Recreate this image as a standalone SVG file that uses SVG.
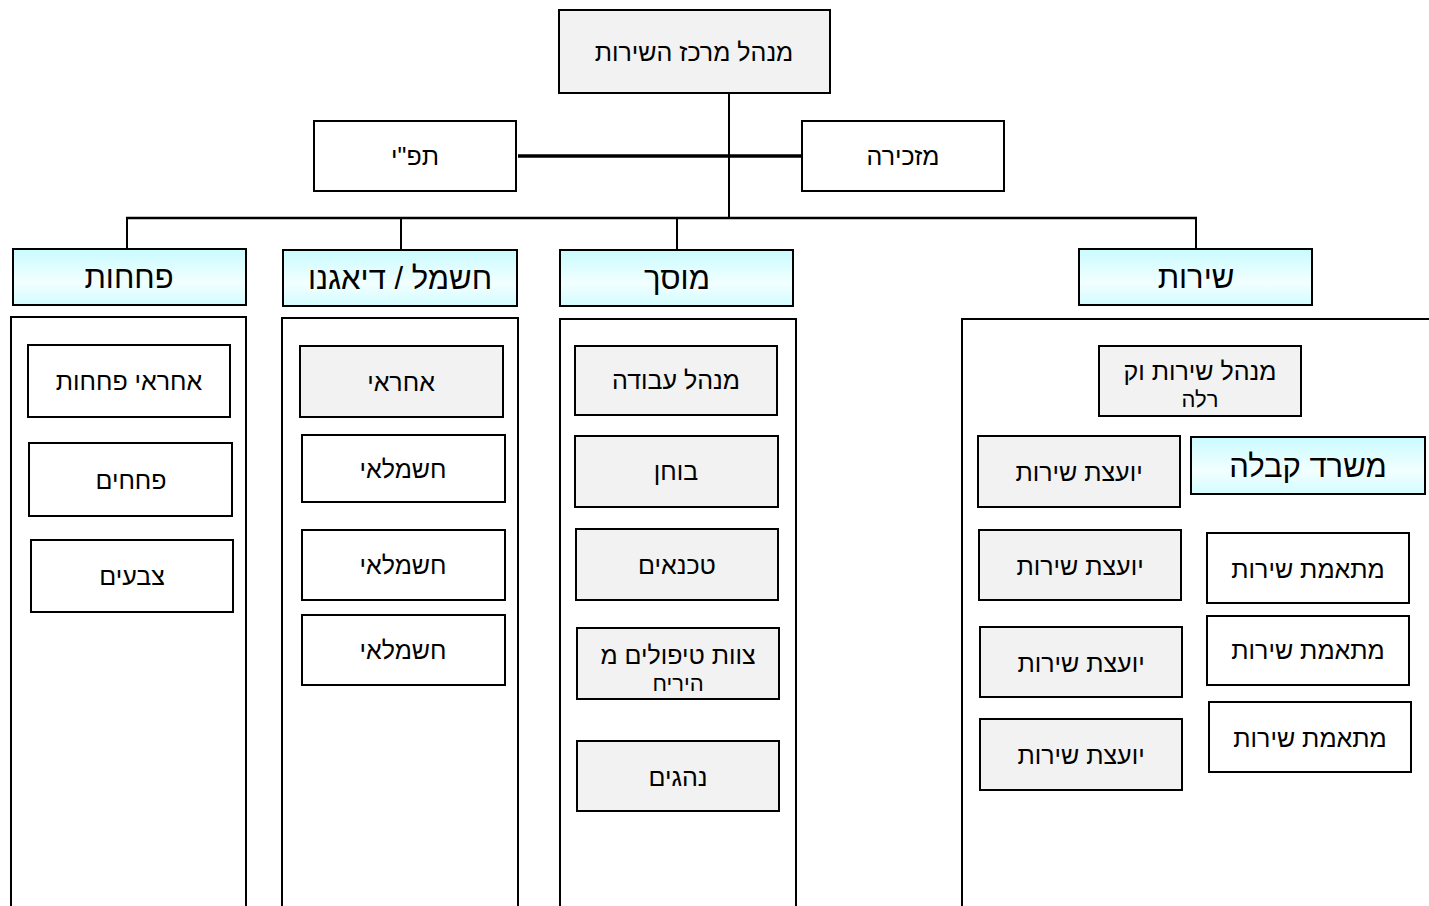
<svg xmlns="http://www.w3.org/2000/svg" width="1429" height="906" viewBox="0 0 1429 906">
<defs>
<linearGradient id="cy" x1="0" y1="0" x2="0" y2="1">
<stop offset="0" stop-color="#c9fbff"/>
<stop offset="0.6" stop-color="#f2ffff"/>
<stop offset="1" stop-color="#d2fcff"/>
</linearGradient>
<style>
.n rect{stroke:#000;stroke-width:2}
.g{fill:#f2f2f2}
.w{fill:#fff}
.h{fill:url(#cy)}
.frame{fill:none;stroke:#000;stroke-width:2}
text{font-family:"Liberation Sans","DejaVu Sans",Arial,sans-serif;fill:#000;text-anchor:middle;direction:rtl}
.t{font-size:25px}
.t2{font-size:22px}
.ht{font-size:31px}
.c line{stroke:#000;stroke-width:2}
</style>
</defs>
<rect width="1429" height="906" fill="#fff"/>
<g class="c" id="connectors">
<line x1="729" y1="93" x2="729" y2="219"/>
<line x1="518" y1="156" x2="802" y2="156" style="stroke-width:3.5"/>
<line x1="126" y1="218" x2="1197" y2="218" style="stroke-width:2.5"/>
<line x1="127" y1="218" x2="127" y2="249"/>
<line x1="401" y1="218" x2="401" y2="250"/>
<line x1="677" y1="218" x2="677" y2="250"/>
<line x1="1196" y1="218" x2="1196" y2="249"/>
</g>
<g id="frames">
<path class="frame" d="M11 906 V317 H246 V906"/>
<path class="frame" d="M282 906 V318 H518 V906"/>
<path class="frame" d="M560 906 V319 H796 V906"/>
<path class="frame" d="M962 906 V319 H1429"/>
</g>
<g class="n">
<g id="top"><rect class="g" x="559" y="10" width="271" height="83"/><text class="t" x="694" y="61">מנהל מרכז השירות</text></g>
<g id="tapi"><rect class="w" x="314" y="121" width="202" height="70"/><text class="t" x="415" y="165">תפ"י</text></g>
<g id="secretary"><rect class="w" x="802" y="121" width="202" height="70"/><text class="t" x="903" y="165">מזכירה</text></g>

<g id="h-pechachut"><rect class="h" x="13" y="249" width="233" height="56"/><text class="ht" x="129" y="288">פחחות</text></g>
<g id="h-electric"><rect class="h" x="283" y="250" width="234" height="56"/><text class="ht" x="400" y="289">חשמל / דיאגנו</text></g>
<g id="h-garage"><rect class="h" x="560" y="250" width="233" height="56"/><text class="ht" x="677" y="289">מוסך</text></g>
<g id="h-service"><rect class="h" x="1079" y="249" width="233" height="56"/><text class="ht" x="1196" y="288">שירות</text></g>

<g id="n1"><rect class="w" x="28" y="345" width="202" height="72"/><text class="t" x="129" y="390">אחראי פחחות</text></g>
<g id="n2"><rect class="w" x="29" y="443" width="203" height="73"/><text class="t" x="131" y="489">פחחים</text></g>
<g id="n3"><rect class="w" x="31" y="540" width="202" height="72"/><text class="t" x="132" y="585">צבעים</text></g>

<g id="n4"><rect class="g" x="300" y="346" width="203" height="71"/><text class="t" x="401" y="391">אחראי</text></g>
<g id="n5"><rect class="w" x="302" y="435" width="203" height="67"/><text class="t" x="403" y="478">חשמלאי</text></g>
<g id="n6"><rect class="w" x="302" y="530" width="203" height="70"/><text class="t" x="403" y="574">חשמלאי</text></g>
<g id="n7"><rect class="w" x="302" y="615" width="203" height="70"/><text class="t" x="403" y="659">חשמלאי</text></g>

<g id="n8"><rect class="g" x="575" y="346" width="202" height="69"/><text class="t" x="676" y="389">מנהל עבודה</text></g>
<g id="n9"><rect class="g" x="575" y="436" width="203" height="71"/><text class="t" x="676" y="480">בוחן</text></g>
<g id="n10"><rect class="g" x="576" y="529" width="202" height="71"/><text class="t" x="677" y="574">טכנאים</text></g>
<g id="n11"><rect class="g" x="577" y="628" width="202" height="71"/><text class="t" x="678" y="664">צוות טיפולים מ</text><text class="t2" x="678" y="691">היריח</text></g>
<g id="n12"><rect class="g" x="577" y="741" width="202" height="70"/><text class="t" x="678" y="786">נהגים</text></g>

<g id="n13"><rect class="g" x="1099" y="346" width="202" height="70"/><text class="t" x="1200" y="380">מנהל שירות וק</text><text class="t2" x="1200" y="407">רלה</text></g>
<g id="n14"><rect class="h" x="1191" y="437" width="234" height="57"/><text class="ht" x="1308" y="477">משרד קבלה</text></g>
<g id="n15"><rect class="g" x="978" y="436" width="202" height="71"/><text class="t" x="1079" y="481">יועצת שירות</text></g>
<g id="n16"><rect class="g" x="979" y="530" width="202" height="70"/><text class="t" x="1080" y="575">יועצת שירות</text></g>
<g id="n17"><rect class="g" x="980" y="627" width="202" height="70"/><text class="t" x="1081" y="672">יועצת שירות</text></g>
<g id="n18"><rect class="g" x="980" y="719" width="202" height="71"/><text class="t" x="1081" y="764">יועצת שירות</text></g>
<g id="n19"><rect class="w" x="1207" y="533" width="202" height="70"/><text class="t" x="1308" y="578">מתאמת שירות</text></g>
<g id="n20"><rect class="w" x="1207" y="616" width="202" height="69"/><text class="t" x="1308" y="659">מתאמת שירות</text></g>
<g id="n21"><rect class="w" x="1209" y="702" width="202" height="70"/><text class="t" x="1310" y="747">מתאמת שירות</text></g>
</g>
</svg>
